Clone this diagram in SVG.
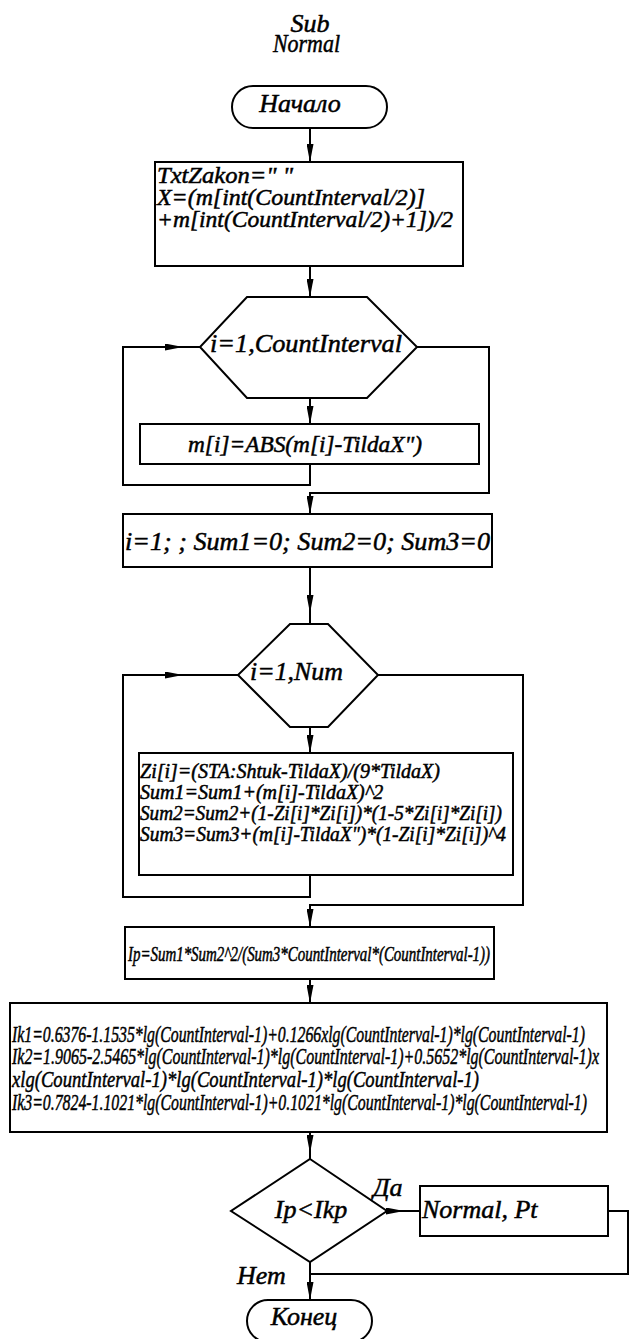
<svg xmlns="http://www.w3.org/2000/svg" width="632" height="1339" viewBox="0 0 632 1339">
<style>
.s{fill:#fff;stroke:#000;stroke-width:2}
.c{fill:none;stroke:#000;stroke-width:2}
.t{font-family:'Liberation Serif','Times New Roman',serif;font-style:italic;fill:#000;stroke:#000;stroke-width:0.5}
.f26{font-size:26px}
.f23{font-size:23px}
.f20{font-size:20px}
.f24{font-size:24px}
.m{text-anchor:middle}
</style>
<defs>
<marker id="ah" viewBox="0 0 18 7" refX="18" refY="3.5" markerWidth="18" markerHeight="7" markerUnits="userSpaceOnUse" orient="auto">
<path d="M0,0 L18,3.5 L0,7 z" fill="#000"/>
</marker>
</defs>
<rect width="632" height="1339" fill="#fff"/>
<g id="title">
<text class="t f26 m" x="310" y="32">Sub</text>
<text class="t f26" x="273" y="52" textLength="67" lengthAdjust="spacingAndGlyphs">Normal</text>
</g>
<g id="connectors">
<path class="c" d="M310,128 V162" marker-end="url(#ah)"/>
<path class="c" d="M310,266 V297" marker-end="url(#ah)"/>
<path class="c" d="M310,398 V424" marker-end="url(#ah)"/>
<path class="c" d="M310,464 V485 H123 V347 H183" marker-end="url(#ah)"/>
<path class="c" d="M183,347 H200"/>
<path class="c" d="M417,347 H489 V493 H310 V514" marker-end="url(#ah)"/>
<path class="c" d="M310,567 V613" marker-end="url(#ah)"/>
<path class="c" d="M310,613 V624"/>
<path class="c" d="M310,727 V753" marker-end="url(#ah)"/>
<path class="c" d="M310,875 V897 H123 V675 H183" marker-end="url(#ah)"/>
<path class="c" d="M183,675 H238"/>
<path class="c" d="M378,675 H523 V905 H310 V927" marker-end="url(#ah)"/>
<path class="c" d="M310,979 V1003" marker-end="url(#ah)"/>
<path class="c" d="M310,1132 V1153" marker-end="url(#ah)"/>
<path class="c" d="M310,1153 V1159"/>
<path class="c" d="M387,1211 H404" marker-end="url(#ah)"/>
<path class="c" d="M404,1211 H420"/>
<path class="c" d="M608,1211 H628 V1274 H310"/>
<path class="c" d="M310,1262 V1300" marker-end="url(#ah)"/>
<text class="t f26" x="373" y="1196">Да</text>
<text class="t f26" x="237" y="1284">Нет</text>
</g>
<g id="start">
<rect class="s" x="232" y="86" width="155" height="42" rx="21"/>
<text class="t f26 m" x="300" y="112">Начало</text>
</g>
<g id="init">
<rect class="s" x="155" y="162" width="308" height="104"/>
<text class="t f23" x="157" y="183" textLength="136" lengthAdjust="spacingAndGlyphs">TxtZakon=" "</text>
<text class="t f23" x="157" y="205" textLength="268" lengthAdjust="spacingAndGlyphs">X=(m[int(CountInterval/2)]</text>
<text class="t f23" x="157" y="227" textLength="296" lengthAdjust="spacingAndGlyphs">+m[int(CountInterval/2)+1])/2</text>
</g>
<g id="loop1">
<polygon class="s" points="247,297 367,297 417,347 367,398 247,398 200,347"/>
<text class="t f26" x="210" y="352" textLength="192" lengthAdjust="spacingAndGlyphs">i=1,CountInterval</text>
</g>
<g id="abs">
<rect class="s" x="140" y="424" width="339" height="40"/>
<text class="t f23" x="188" y="452" textLength="234" lengthAdjust="spacingAndGlyphs">m[i]=ABS(m[i]-TildaX")</text>
</g>
<g id="sums">
<rect class="s" x="123" y="514" width="369" height="53"/>
<text class="t f26" x="125" y="550" textLength="365" lengthAdjust="spacingAndGlyphs">i=1; ; Sum1=0; Sum2=0; Sum3=0</text>
</g>
<g id="loop2">
<polygon class="s" points="290,624 328,624 378,675 328,727 290,727 238,675"/>
<text class="t f26" x="250" y="680" textLength="93" lengthAdjust="spacingAndGlyphs">i=1,Num</text>
</g>
<g id="calc">
<rect class="s" x="139" y="753" width="374" height="122"/>
<text class="t f20" x="140" y="778" textLength="300" lengthAdjust="spacingAndGlyphs">Zi[i]=(STA:Shtuk-TildaX)/(9*TildaX)</text>
<text class="t f20" x="140" y="799">Sum1=Sum1+(m[i]-TildaX)^2</text>
<text class="t f20" x="140" y="820" textLength="362" lengthAdjust="spacingAndGlyphs">Sum2=Sum2+(1-Zi[i]*Zi[i])*(1-5*Zi[i]*Zi[i])</text>
<text class="t f20" x="140" y="841" textLength="366" lengthAdjust="spacingAndGlyphs">Sum3=Sum3+(m[i]-TildaX")*(1-Zi[i]*Zi[i])^4</text>
</g>
<g id="ip">
<rect class="s" x="125" y="927" width="369" height="52"/>
<text class="t f20" x="128" y="961" textLength="362" lengthAdjust="spacingAndGlyphs">Ip=Sum1*Sum2^2/(Sum3*CountInterval*(CountInterval-1))</text>
</g>
<g id="ik">
<rect class="s" x="10" y="1003" width="597" height="129"/>
<text class="t f24" x="12" y="1042" textLength="573" lengthAdjust="spacingAndGlyphs">Ik1=0.6376-1.1535*lg(CountInterval-1)+0.1266xlg(CountInterval-1)*lg(CountInterval-1)</text>
<text class="t f24" x="12" y="1064" textLength="587" lengthAdjust="spacingAndGlyphs">Ik2=1.9065-2.5465*lg(CountInterval-1)*lg(CountInterval-1)+0.5652*lg(CountInterval-1)x</text>
<text class="t f24" x="12" y="1087" textLength="467" lengthAdjust="spacingAndGlyphs">xlg(CountInterval-1)*lg(CountInterval-1)*lg(CountInterval-1)</text>
<text class="t f24" x="12" y="1110" textLength="575" lengthAdjust="spacingAndGlyphs">Ik3=0.7824-1.1021*lg(CountInterval-1)+0.1021*lg(CountInterval-1)*lg(CountInterval-1)</text>
</g>
<g id="decision">
<polygon class="s" points="310,1159 387,1211 310,1262 231,1211"/>
<text class="t f26 m" x="311" y="1218">Ip&lt;Ikp</text>
</g>
<g id="normal">
<rect class="s" x="420" y="1186" width="188" height="50"/>
<text class="t f26" x="422" y="1218">Normal, Pt</text>
</g>
<g id="end">
<rect class="s" x="247" y="1300" width="125" height="42" rx="21"/>
<text class="t f26 m" x="304" y="1325">Конец</text>
</g>
</svg>
